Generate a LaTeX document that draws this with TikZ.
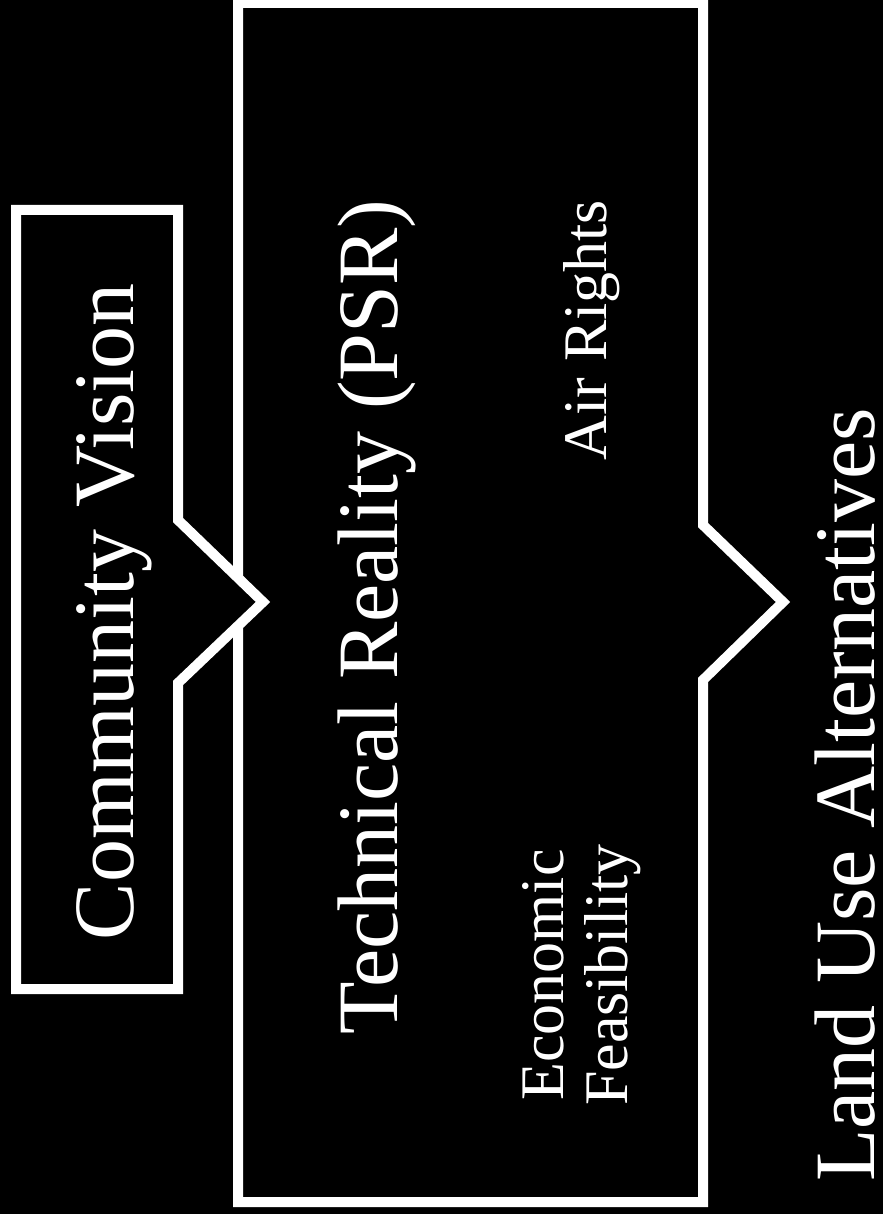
\documentclass[tikz,border=0pt]{standalone}
\usepackage{fontspec}
\setmainfont{Liberation Serif}
\usetikzlibrary{positioning}

\tikzset{
  frame/.style={draw=white, line width=10pt, fill=black},
  biglabel/.style={text=white, rotate=90, anchor=base, inner sep=0pt, font=\fontsize{86}{90}\selectfont},
  smalllabel/.style={text=white, rotate=90, align=center, inner sep=0pt, font=\fontsize{62}{64}\selectfont},
}

\begin{document}
\begin{tikzpicture}[x=1pt,y=-1pt]
  % page and background
  \useasboundingbox (0,0) rectangle (883,1214);
  \fill[black] (0,0) rectangle (883,1214);

  % big box with its arrow towards the alternatives
  \draw[frame] (238,3) -- (703,3) -- (703,525) -- (783,602) -- (703,680)
    -- (703,1202) -- (238,1202) -- cycle;

  % vision box, its arrow lies over the big box
  \draw[frame] (16,210) -- (178,210) -- (178,520) -- (263,602) -- (178,683)
    -- (178,989) -- (16,989) -- cycle;

  % Labels
  \node[biglabel] (vision) at (133,612) {Community Vision};
  \node[biglabel] (technical) at (397,617) {Technical Reality (PSR)};
  \node[smalllabel, anchor=base] (air) at (606,330) {Air Rights};
  \node[smalllabel] (economic) at (582,975) {Economic\\Feasibility};
  \node[biglabel] (landuse) at (874,795) {Land Use Alternatives};
\end{tikzpicture}
\end{document}
